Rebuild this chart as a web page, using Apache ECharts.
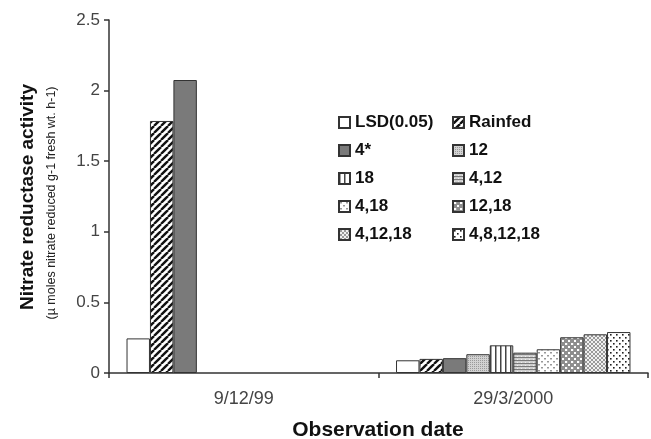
<!DOCTYPE html>
<html><head><meta charset="utf-8">
<script src="https://cdn.jsdelivr.net/npm/echarts@6/dist/echarts.min.js"></script>
<style>html,body{margin:0;padding:0;background:#fff}#c{width:651px;height:439px}</style>
</head><body><div id="c"></div>
<script>
const categories = ['9/12/99', '29/3/2000'];
const seriesNames = ['LSD(0.05)', 'Rainfed', '4*', '12', '18', '4,12', '4,18', '12,18', '4,12,18', '4,8,12,18'];
const lsd      = [0.245, 0.09];
const rainfed  = [1.785, 0.10];
const t4       = [2.075, 0.105];
const t12      = [null, 0.133];
const t18      = [null, 0.196];
const t4_12    = [null, 0.144];
const t4_18    = [null, 0.168];
const t12_18   = [null, 0.253];
const t4_12_18 = [null, 0.274];
const t4_8_12_18 = [null, 0.29];
const yTicks = [0, 0.5, 1, 1.5, 2, 2.5];

const seriesData = [lsd, rainfed, t4, t12, t18, t4_12, t4_18, t12_18, t4_12_18, t4_8_12_18];

function tile(w, h, draw) {
  const c = document.createElement('canvas');
  c.width = w; c.height = h;
  const g = c.getContext('2d');
  draw(g, w, h);
  return { image: c, repeat: 'repeat' };
}
const patterns = [
  '#ffffff',
  tile(7, 7, (g) => { g.fillStyle = '#fff'; g.fillRect(0,0,7,7); g.strokeStyle = '#111'; g.lineWidth = 2.4;
    [-7, 0, 7].forEach(x0 => { g.beginPath(); g.moveTo(x0, 7); g.lineTo(x0 + 7, 0); g.stroke(); }); }),
  '#7a7a7a',
  tile(2, 2, (g) => { g.fillStyle = '#d2d2d2'; g.fillRect(0,0,2,2); g.fillStyle = '#9a9a9a'; g.fillRect(0,0,1,1); }),
  tile(5, 2, (g) => { g.fillStyle = '#fff'; g.fillRect(0,0,5,2); g.fillStyle = '#444'; g.fillRect(0,0,1.5,2); }),
  tile(4, 3, (g) => { g.fillStyle = '#cfcfcf'; g.fillRect(0,0,4,3); g.fillStyle = '#7a7a7a'; g.fillRect(0,0,4,1); g.fillStyle='#eee'; g.fillRect(1,2,1,1); }),
  tile(6, 6, (g) => { g.fillStyle = '#fff'; g.fillRect(0,0,6,6); g.fillStyle = '#999'; g.fillRect(1,1,2,1.5); g.fillRect(4,4,2,1.5); }),
  tile(6, 6, (g) => { g.fillStyle = '#8e8e8e'; g.fillRect(0,0,6,6); g.fillStyle = '#fff'; g.fillRect(1,1,2.2,2); g.fillRect(4,4,2.2,2); }),
  tile(4, 4, (g) => { g.fillStyle = '#f0f0f0'; g.fillRect(0,0,4,4); g.strokeStyle = '#9a9a9a'; g.lineWidth = 1;
    g.beginPath(); g.moveTo(0,0); g.lineTo(4,4); g.moveTo(4,0); g.lineTo(0,4); g.stroke(); }),
  tile(6, 6, (g) => { g.fillStyle = '#fff'; g.fillRect(0,0,6,6); g.fillStyle = '#222'; g.fillRect(1,1,1.6,1.6); g.fillRect(4,4,1.6,1.6); })
];

const FONT = "'Liberation Sans', Arial, sans-serif";
const series = seriesNames.map((name, i) => ({
  name, type: 'bar', data: seriesData[i],
  barGap: '0%', barCategoryGap: '13%',
  itemStyle: { color: patterns[i], borderColor: '#333', borderWidth: 1 },
  emphasis: { disabled: true },
  animation: false
}));

const legendCommon = {
  orient: 'vertical', top: 109, itemWidth: 11, itemHeight: 11, itemGap: 11, icon: 'rect',
  textStyle: { fontFamily: FONT, fontWeight: 'bold', fontSize: 17, lineHeight: 17, color: '#111' },
  selectedMode: false
};

const chart = echarts.init(document.getElementById('c'), null, { renderer: 'canvas' });
chart.setOption({
  backgroundColor: '#fff',
  animation: false,
  grid: { left: 109, right: 3, top: 20, bottom: 66, containLabel: false },
  legend: [
    Object.assign({}, legendCommon, { left: 333, data: [seriesNames[0], seriesNames[2], seriesNames[4], seriesNames[6], seriesNames[8]] }),
    Object.assign({}, legendCommon, { left: 447, data: [seriesNames[1], seriesNames[3], seriesNames[5], seriesNames[7], seriesNames[9]] })
  ],
  xAxis: {
    type: 'category', data: categories,
    axisLine: { lineStyle: { color: '#333', width: 1.5 } },
    axisTick: { show: true, length: 5, lineStyle: { color: '#333', width: 1.5 } },
    axisLabel: { fontFamily: FONT, fontSize: 18, color: '#444', margin: 17 }
  },
  yAxis: {
    type: 'value', min: 0, max: 2.5, interval: 0.5,
    splitLine: { show: false },
    axisLine: { show: true, lineStyle: { color: '#333', width: 1.5 } },
    axisTick: { show: true, length: 5, lineStyle: { color: '#333', width: 1.5 } },
    axisLabel: { fontFamily: FONT, fontSize: 17, color: '#444', margin: 9,
      formatter: v => String(yTicks.find(t => Math.abs(t - v) < 1e-9) ?? v) }
  },
  graphic: [
    { type: 'text', x: 28, y: 197, rotation: Math.PI / 2,
      style: { text: 'Nitrate reductase activity', font: "bold 19px 'Liberation Sans', Arial", fill: '#111', align: 'center', verticalAlign: 'middle' } },
    { type: 'text', x: 52, y: 203, rotation: Math.PI / 2,
      style: { text: '(µ moles nitrate reduced g-1 fresh wt. h-1)', font: "12.5px 'Liberation Sans', Arial", fill: '#222', align: 'center', verticalAlign: 'middle' } },
    { type: 'text', x: 378, y: 430,
      style: { text: 'Observation date', font: "bold 21px 'Liberation Sans', Arial", fill: '#111', align: 'center', verticalAlign: 'middle' } }
  ],
  series
});
</script></body></html>
